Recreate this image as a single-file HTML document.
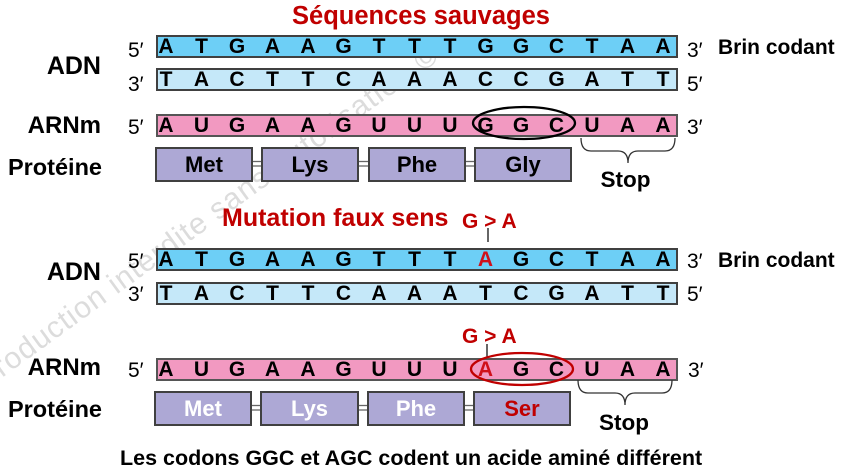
<!DOCTYPE html>
<html>
<head>
<meta charset="utf-8">
<style>
  html, body { margin: 0; padding: 0; background: #ffffff; }
  body { width: 842px; height: 476px; overflow: hidden; }
  svg { display: block; }
  text { font-family: "Liberation Sans", Arial, sans-serif; }
</style>
</head>
<body>
<svg width="842" height="476" viewBox="0 0 842 476" xmlns="http://www.w3.org/2000/svg">
  <!-- watermark -->
  <text x="-45" y="412" transform="rotate(-36 -45 412)" font-size="30" fill="#dcdcdc" letter-spacing="1">Reproduction interdite sans autorisation ©</text>

  <!-- ===== Top section ===== -->
  <text x="292" y="24" font-size="25.5" font-weight="bold" fill="#C00000">Séquences sauvages</text>

  <!-- labels -->
  <text x="101" y="74" font-size="25" font-weight="bold" text-anchor="end" fill="#000">ADN</text>
  <text x="101" y="133" font-size="24" font-weight="bold" text-anchor="end" fill="#000">ARNm</text>
  <text x="102" y="175" font-size="23.5" font-weight="bold" text-anchor="end" fill="#000">Protéine</text>

  <!-- end labels -->
  <g font-size="21" fill="#000">
    <text x="128" y="57">5′</text>
    <text x="128" y="91">3′</text>
    <text x="128" y="134">5′</text>
    <text x="687" y="57">3′</text>
    <text x="687" y="91">5′</text>
    <text x="687" y="134">3′</text>
  </g>
  <text x="718" y="54" font-size="21" font-weight="bold" fill="#000">Brin codant</text>

  <!-- strands -->
  <rect x="157" y="36" width="520" height="21" fill="#6DCFF6" stroke="#404040" stroke-width="2"/>
  <rect x="157" y="69" width="520" height="21" fill="#C5E8F9" stroke="#404040" stroke-width="2"/>
  <rect x="157" y="115" width="520" height="21" fill="#F299C1" stroke="#555555" stroke-width="2"/>

  <g font-size="21" font-weight="bold" text-anchor="middle" fill="#000">
    <!-- coding strand -->
    <text x="166" y="53">A</text><text x="201.5" y="53">T</text><text x="237" y="53">G</text><text x="272.5" y="53">A</text><text x="308" y="53">A</text>
    <text x="343.5" y="53">G</text><text x="379" y="53">T</text><text x="414.5" y="53">T</text><text x="450" y="53">T</text><text x="485.5" y="53">G</text>
    <text x="521" y="53">G</text><text x="556.5" y="53">C</text><text x="592" y="53">T</text><text x="627.5" y="53">A</text><text x="663" y="53">A</text>
    <!-- template strand -->
    <text x="166" y="86">T</text><text x="201.5" y="86">A</text><text x="237" y="86">C</text><text x="272.5" y="86">T</text><text x="308" y="86">T</text>
    <text x="343.5" y="86">C</text><text x="379" y="86">A</text><text x="414.5" y="86">A</text><text x="450" y="86">A</text><text x="485.5" y="86">C</text>
    <text x="521" y="86">C</text><text x="556.5" y="86">G</text><text x="592" y="86">A</text><text x="627.5" y="86">T</text><text x="663" y="86">T</text>
    <!-- mRNA -->
    <text x="166" y="132">A</text><text x="201.5" y="132">U</text><text x="237" y="132">G</text><text x="272.5" y="132">A</text><text x="308" y="132">A</text>
    <text x="343.5" y="132">G</text><text x="379" y="132">U</text><text x="414.5" y="132">U</text><text x="450" y="132">U</text><text x="485.5" y="132">G</text>
    <text x="521" y="132">G</text><text x="556.5" y="132">C</text><text x="592" y="132">U</text><text x="627.5" y="132">A</text><text x="663" y="132">A</text>
  </g>

  <ellipse cx="524" cy="123" rx="51" ry="16" fill="none" stroke="#000" stroke-width="2.3"/>

  <!-- protein top -->
  <g stroke="#666" stroke-width="1.3">
    <line x1="252" y1="161.5" x2="261" y2="161.5"/><line x1="252" y1="166" x2="261" y2="166"/>
    <line x1="358" y1="161.5" x2="368" y2="161.5"/><line x1="358" y1="166" x2="368" y2="166"/>
    <line x1="465" y1="161.5" x2="474" y2="161.5"/><line x1="465" y1="166" x2="474" y2="166"/>
  </g>
  <g fill="#ADA8D5" stroke="#404040" stroke-width="2">
    <rect x="156" y="148" width="96" height="33"/>
    <rect x="262" y="148" width="96" height="33"/>
    <rect x="369" y="148" width="96" height="33"/>
    <rect x="475" y="148" width="96" height="33"/>
  </g>
  <g font-size="22" font-weight="bold" text-anchor="middle" fill="#000">
    <text x="204" y="172">Met</text>
    <text x="310" y="172">Lys</text>
    <text x="417" y="172">Phe</text>
    <text x="523" y="172">Gly</text>
  </g>

  <path d="M581 138 Q581 151 591 151 L618 151 Q628 151 628 163 Q628 151 638 151 L665 151 Q675 151 675 138" fill="none" stroke="#333" stroke-width="1.3"/>
  <text x="625.5" y="187" font-size="22.5" font-weight="bold" text-anchor="middle" fill="#000">Stop</text>

  <!-- ===== Mutation section ===== -->
  <text x="222" y="226" font-size="25" font-weight="bold" fill="#C00000">Mutation faux sens</text>
  <text x="462" y="228" font-size="21" font-weight="bold" fill="#C00000">G &gt; A</text>
  <line x1="488" y1="228" x2="488" y2="242" stroke="#000" stroke-width="1.2"/>

  <text x="101" y="280" font-size="25" font-weight="bold" text-anchor="end" fill="#000">ADN</text>
  <text x="101" y="375" font-size="24" font-weight="bold" text-anchor="end" fill="#000">ARNm</text>
  <text x="102" y="417" font-size="23.5" font-weight="bold" text-anchor="end" fill="#000">Protéine</text>

  <g font-size="21" fill="#000">
    <text x="128" y="268">5′</text>
    <text x="128" y="301">3′</text>
    <text x="128" y="377">5′</text>
    <text x="687" y="268">3′</text>
    <text x="687" y="301">5′</text>
    <text x="688" y="377">3′</text>
  </g>
  <text x="718" y="267" font-size="21" font-weight="bold" fill="#000">Brin codant</text>

  <rect x="157" y="249" width="520" height="21" fill="#6DCFF6" stroke="#404040" stroke-width="2"/>
  <rect x="157" y="283" width="520" height="21" fill="#C5E8F9" stroke="#404040" stroke-width="2"/>
  <rect x="157" y="359" width="520" height="21" fill="#F299C1" stroke="#555555" stroke-width="2"/>

  <g font-size="21" font-weight="bold" text-anchor="middle" fill="#000">
    <text x="166" y="266">A</text><text x="201.5" y="266">T</text><text x="237" y="266">G</text><text x="272.5" y="266">A</text><text x="308" y="266">A</text>
    <text x="343.5" y="266">G</text><text x="379" y="266">T</text><text x="414.5" y="266">T</text><text x="450" y="266">T</text><text x="485.5" y="266" fill="#D0101A">A</text>
    <text x="521" y="266">G</text><text x="556.5" y="266">C</text><text x="592" y="266">T</text><text x="627.5" y="266">A</text><text x="663" y="266">A</text>

    <text x="166" y="300">T</text><text x="201.5" y="300">A</text><text x="237" y="300">C</text><text x="272.5" y="300">T</text><text x="308" y="300">T</text>
    <text x="343.5" y="300">C</text><text x="379" y="300">A</text><text x="414.5" y="300">A</text><text x="450" y="300">A</text><text x="485.5" y="300">T</text>
    <text x="521" y="300">C</text><text x="556.5" y="300">G</text><text x="592" y="300">A</text><text x="627.5" y="300">T</text><text x="663" y="300">T</text>

    <text x="166" y="376">A</text><text x="201.5" y="376">U</text><text x="237" y="376">G</text><text x="272.5" y="376">A</text><text x="308" y="376">A</text>
    <text x="343.5" y="376">G</text><text x="379" y="376">U</text><text x="414.5" y="376">U</text><text x="450" y="376">U</text><text x="485.5" y="376" fill="#D0101A">A</text>
    <text x="521" y="376">G</text><text x="556.5" y="376">C</text><text x="592" y="376">U</text><text x="627.5" y="376">A</text><text x="663" y="376">A</text>
  </g>

  <text x="462" y="343" font-size="21" font-weight="bold" fill="#C00000">G &gt; A</text>
  <line x1="487" y1="344" x2="487" y2="358" stroke="#000" stroke-width="1.2"/>
  <ellipse cx="522" cy="369" rx="51" ry="16" fill="none" stroke="#C00000" stroke-width="2.3"/>

  <g stroke="#666" stroke-width="1.3">
    <line x1="251" y1="405.5" x2="260" y2="405.5"/><line x1="251" y1="410" x2="260" y2="410"/>
    <line x1="358" y1="405.5" x2="367" y2="405.5"/><line x1="358" y1="410" x2="367" y2="410"/>
    <line x1="464" y1="405.5" x2="473" y2="405.5"/><line x1="464" y1="410" x2="473" y2="410"/>
  </g>
  <g fill="#ADA8D5" stroke="#404040" stroke-width="2">
    <rect x="155" y="392" width="96" height="33"/>
    <rect x="261" y="392" width="97" height="33"/>
    <rect x="368" y="392" width="96" height="33"/>
    <rect x="474" y="392" width="96" height="33"/>
  </g>
  <g font-size="22" font-weight="bold" text-anchor="middle">
    <text x="203" y="416" fill="#ffffff">Met</text>
    <text x="309.5" y="416" fill="#ffffff">Lys</text>
    <text x="416" y="416" fill="#ffffff">Phe</text>
    <text x="522" y="416" fill="#C00000">Ser</text>
  </g>

  <path d="M578 380 Q578 393 588 393 L615 393 Q625 393 625 405 Q625 393 635 393 L662 393 Q672 393 672 380" fill="none" stroke="#333" stroke-width="1.3"/>
  <text x="624" y="430" font-size="22.5" font-weight="bold" text-anchor="middle" fill="#000">Stop</text>

  <text x="120" y="465" font-size="21.5" font-weight="bold" fill="#000">Les codons GGC et AGC codent un acide aminé différent</text>
</svg>
</body>
</html>
